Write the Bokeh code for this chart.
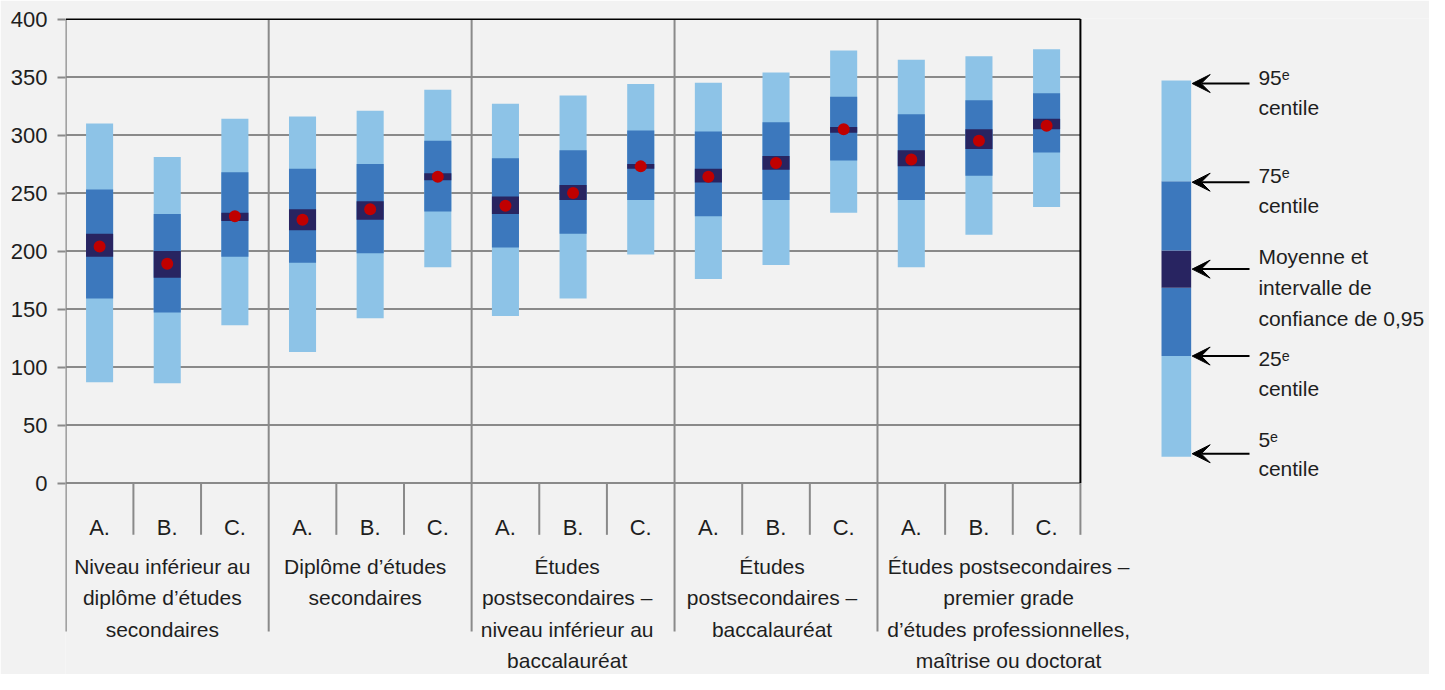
from bokeh.plotting import figure
from bokeh.models import Range1d, FixedTicker, Arrow, VeeHead
from bokeh.core.properties import value
from bokeh.embed import file_html
from bokeh.resources import INLINE

# ---------------- data ----------------
subcats = ["A.", "B.", "C."]
groups = [
    ["Niveau inférieur au", "diplôme d’études", "secondaires"],
    ["Diplôme d’études", "secondaires"],
    ["Études", "postsecondaires –", "niveau inférieur au", "baccalauréat"],
    ["Études", "postsecondaires –", "baccalauréat"],
    ["Études postsecondaires –", "premier grade", "d’études professionnelles,", "maîtrise ou doctorat"],
]
p5 = [87, 86, 136, 113, 142, 186, 144, 159, 197, 176, 188, 233, 186, 214, 238]
p25 = [159, 147, 195, 190, 198, 234, 203, 215, 244, 230, 244, 278, 244, 265, 285]
ci_lo = [195, 177, 226, 218, 227, 261, 232, 244, 271, 259, 270, 302, 273, 288, 305]
mean = [204, 189, 230, 227, 236, 264, 239, 250, 273, 264, 276, 305, 279, 295, 308]
ci_hi = [215, 200, 233, 236, 243, 267, 247, 257, 275, 271, 282, 307, 287, 305, 314]
p75 = [253, 232, 268, 271, 275, 295, 280, 287, 304, 303, 311, 333, 318, 330, 336]
p95 = [310, 281, 314, 316, 321, 339, 327, 334, 344, 345, 354, 373, 365, 368, 374]
yticks = [0, 50, 100, 150, 200, 250, 300, 350, 400]
legend_labels = [
    ["95ᵉ", "centile"],
    ["75ᵉ", "centile"],
    ["Moyenne et", "intervalle de", "confiance de 0,95"],
    ["25ᵉ", "centile"],
    ["5ᵉ", "centile"],
]

# ---------------- style / layout ----------------
BG = "#F2F2F2"
GRAY = "#8A8A8A"
LIGHT = "#8DC3E7"
MID = "#3C78BD"
DARK = "#282461"
RED = "#C00000"
TXT = "#1E1E1E"
FONT = "Liberation Sans"

W, H = 1429, 674
SX, SY = W / 1445, H / 690          # reference-to-figure scale
LEFT, TOP = 65, 18
CATW = 68.4 * SX                     # pixels per category
UNIT = 1.1875 * SY                   # pixels per score point
x_start = (LEFT - 66 * SX) / CATW
x_end = (W - 66 * SX) / CATW
y_end = (494 * SY - TOP) / UNIT
y_start = (494 * SY - H) / UNIT
N = len(p5)
TFIX = 7.5                           # baseline correction (reference px)
GROUP_SHIFT = [-5, -5, -6, -4, 30]   # label centre offsets (reference px)


def X(px):  # reference pixel -> data x
    return (px - 66) / 68.4


def Y(py):  # reference pixel -> data y
    return (494 - py) / 1.1875


def YT(py):  # text baseline (reference px) -> data y
    return Y(py - TFIX)


p = figure(width=W, height=H, x_range=Range1d(x_start, x_end), y_range=Range1d(y_start, y_end),
           x_axis_location=None, y_axis_location="left",
           output_backend="svg", toolbar_location=None,
           min_border_left=LEFT, min_border_top=TOP, min_border_right=0, min_border_bottom=0,
           background_fill_color=BG, border_fill_color=BG, outline_line_color=None)
p.xgrid.visible = False
p.ygrid.visible = False
ax = p.yaxis[0]
ax.ticker = FixedTicker(ticks=yticks)
ax.axis_line_color = None
ax.major_tick_line_color = GRAY
ax.major_tick_line_width = 2
ax.major_tick_in = 0
ax.major_tick_out = 8
ax.minor_tick_line_color = None
ax.major_label_text_font = FONT
ax.major_label_text_font_size = "22px"
ax.major_label_text_color = TXT
ax.major_label_standoff = 10

# ---------------- lines ----------------
hy = [t for t in yticks if t < 400]
p.segment(x0=[0] * len(hy), x1=[N] * len(hy), y0=hy, y1=hy, line_color=GRAY, line_width=2)
gx = [0, 3, 6, 9, 12]
p.segment(x0=gx, x1=gx, y0=[Y(646)] * len(gx), y1=[400] * len(gx), line_color=GRAY, line_width=2)
sx = [i for i in range(1, N + 1) if i % 3 != 0 or i == N]
p.segment(x0=sx, x1=sx, y0=[Y(547)] * len(sx), y1=[0] * len(sx), line_color=GRAY, line_width=2)
p.segment(x0=[0, N], x1=[N, N], y0=[400, 0], y1=[400, 400], line_color="black", line_width=2)

# ---------------- bars ----------------
xs = [i + 0.5 for i in range(N)]
p.vbar(x=xs, bottom=p5, top=p95, width=0.4, fill_color=LIGHT, line_color=None)
p.vbar(x=xs, bottom=p25, top=p75, width=0.4, fill_color=MID, line_color=None)
p.vbar(x=xs, bottom=ci_lo, top=ci_hi, width=0.4, fill_color=DARK, line_color=None)
p.scatter(x=xs, y=mean, size=12, fill_color=RED, line_color=None)

# ---------------- category labels ----------------
p.text(x=xs, y=[YT(547)] * N, text=[subcats[i % 3] for i in range(N)],
       text_font=value(FONT), text_font_size="22px", text_color=TXT,
       text_align="center", text_baseline="alphabetic")
gtx, gty, gtt = [], [], []
for g, lines in enumerate(groups):
    for k, line in enumerate(lines):
        gtx.append(3 * g + 1.5 + GROUP_SHIFT[g] / 68.4)
        gty.append(YT(587 + 32 * k))
        gtt.append(line)
p.text(x=gtx, y=gty, text=gtt, text_font=value(FONT), text_font_size="21px", text_color=TXT,
       text_align="center", text_baseline="alphabetic")

# ---------------- legend ----------------
lb = [467, 364, 294, 256, 185]
lt = [364, 294, 256, 185, 82]
p.quad(left=X(1174), right=X(1204), bottom=[Y(v) for v in lb], top=[Y(v) for v in lt],
       fill_color=[LIGHT, MID, DARK, MID, LIGHT], line_color=None)
arrow_y = [85, 186, 275, 364, 464]
for ay in arrow_y:
    p.add_layout(Arrow(end=VeeHead(size=18, fill_color="black", line_color="black", line_width=1),
                       x_start=X(1263), y_start=Y(ay), x_end=X(1205), y_end=Y(ay),
                       line_color="black", line_width=2))
base = [[86.7, 117], [186.7, 217.3], [269.3, 301.3, 333.3], [374.3, 405], [456.7, 487]]
ltx, lty, ltt = [], [], []
for labs, bs in zip(legend_labels, base):
    for t, b in zip(labs, bs):
        ltx.append(X(1272))
        lty.append(YT(b))
        ltt.append(t)
p.text(x=ltx, y=lty, text=ltt, text_font=value(FONT), text_font_size="21px", text_color=TXT,
       text_align="left", text_baseline="alphabetic")

open("out.html", "w").write(file_html(p, INLINE))
